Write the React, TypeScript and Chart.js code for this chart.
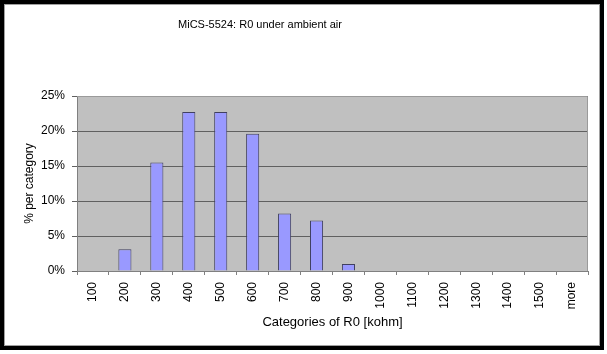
import React, { useEffect, useRef } from 'react';
import { Chart, registerables } from 'chart.js';

Chart.register(...registerables);

const categories = ['100', '200', '300', '400', '500', '600', '700', '800', '900', '1000', '1100', '1200', '1300', '1400', '1500', 'more'];
const percentPerCategory = [0, 3.1, 15.5, 22.7, 22.7, 19.6, 8.2, 7.2, 1.0, 0, 0, 0, 0, 0, 0, 0];
const yTickValues = [0, 5, 10, 15, 20, 25];
const chartTitle = 'MiCS-5524: R0 under ambient air';
const xAxisTitle = 'Categories of R0 [kohm]';
const yAxisTitle = '% per category';

const FONT = '"Liberation Sans", Arial, sans-serif';

const framePlugin = {
  id: 'frame',
  beforeDraw(chart: any) {
    const { ctx, chartArea } = chart;
    ctx.save();
    ctx.fillStyle = '#ffffff';
    ctx.fillRect(0, 0, chart.width, chart.height);
    // plot background
    ctx.fillStyle = '#C0C0C0';
    ctx.fillRect(chartArea.left, chartArea.top, chartArea.right - chartArea.left, chartArea.bottom - chartArea.top);
    // outer frame
    ctx.strokeStyle = '#000000';
    ctx.lineWidth = 4;
    ctx.strokeRect(2, 2, 600, 346);
    ctx.strokeStyle = '#a0a0a0';
    ctx.lineWidth = 1;
    ctx.strokeRect(4.5, 4.5, 595, 341);
    ctx.restore();
  },
  beforeDatasetsDraw(chart: any) {
    const { ctx, chartArea } = chart;
    ctx.save();
    ctx.strokeStyle = '#9a9a9a';
    ctx.lineWidth = 1;
    ctx.beginPath();
    ctx.moveTo(chartArea.left, chartArea.top + 0.5);
    ctx.lineTo(chartArea.right - 0.5, chartArea.top + 0.5);
    ctx.lineTo(chartArea.right - 0.5, chartArea.bottom);
    ctx.stroke();
    ctx.restore();
  },
  afterDraw(chart: any) {
    const { ctx } = chart;
    ctx.save();
    ctx.fillStyle = '#000000';
    ctx.font = '11px ' + FONT;
    ctx.textAlign = 'center';
    ctx.textBaseline = 'middle';
    ctx.fillText(chartTitle, 260, 25);
    ctx.restore();
  },
};

export default function App() {
  const canvasRef = useRef<HTMLCanvasElement | null>(null);

  useEffect(() => {
    const canvas = canvasRef.current;
    if (!canvas) return;
    const chart = new Chart(canvas, {
      type: 'bar',
      data: {
        labels: categories,
        datasets: [
          {
            data: percentPerCategory,
            backgroundColor: '#9999FF',
            borderColor: '#404060',
            borderWidth: 1,
            barPercentage: 0.41,
            categoryPercentage: 1,
          },
        ],
      },
      options: {
        responsive: false,
        animation: false,
        devicePixelRatio: 1,
        layout: { padding: { left: 0, right: 19, top: 96, bottom: 0 } },
        plugins: {
          legend: { display: false },
          title: { display: false },
          tooltip: { enabled: false },
        },
        scales: {
          x: {
            type: 'category',
            offset: true,
            afterFit: (s: any) => {
              s.height = 83;
            },
            grid: {
              offset: true,
              drawOnChartArea: false,
              drawTicks: true,
              tickLength: 4,
              color: '#808080',
            },
            border: { display: true, color: '#808080', width: 1 },
            ticks: {
              color: '#000000',
              font: { family: FONT, size: 12 },
              minRotation: 90,
              maxRotation: 90,
              padding: 7,
              autoSkip: false,
            },
            title: {
              display: true,
              text: xAxisTitle,
              color: '#000000',
              font: { family: FONT, size: 13 },
              padding: { top: 0, bottom: 24 },
            },
          },
          y: {
            min: 0,
            max: 25,
            afterFit: (s: any) => {
              s.width = 77;
            },
            afterBuildTicks: (s: any) => {
              s.ticks = yTickValues.map((v) => ({ value: v }));
            },
            grid: {
              drawOnChartArea: true,
              drawTicks: true,
              tickLength: 5,
              color: '#606060',
            },
            border: { display: true, color: '#808080', width: 1 },
            ticks: {
              color: '#000000',
              font: { family: FONT, size: 12 },
              padding: 7,
              callback: (v: any) => v + '%',
            },
            title: {
              display: true,
              text: yAxisTitle,
              color: '#000000',
              font: { family: FONT, size: 12 },
              padding: { top: 22, bottom: 0 },
            },
          },
        },
      },
      plugins: [framePlugin],
    });
    return () => chart.destroy();
  }, []);

  return (
    <div style={{ position: 'absolute', left: 0, top: 0, width: 607, height: 354 }}>
      <canvas ref={canvasRef} width={607} height={354} style={{ display: 'block', width: 607, height: 354 }} />
    </div>
  );
}
